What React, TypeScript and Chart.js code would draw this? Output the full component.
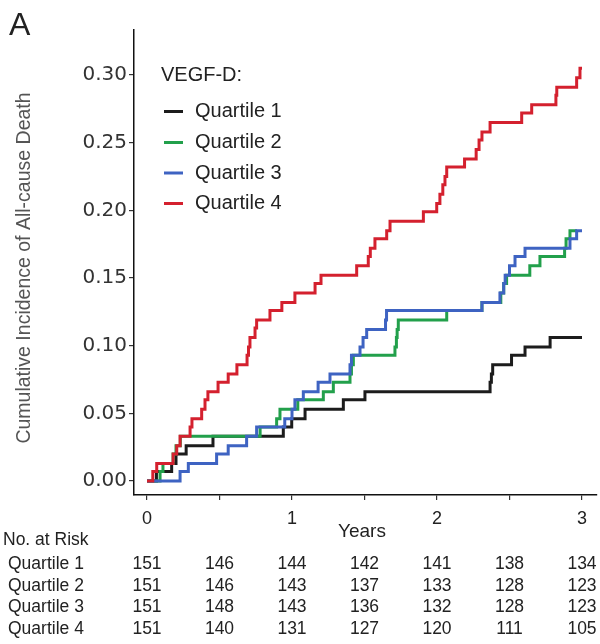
import React, { useEffect, useRef } from "react";
import { Chart, registerables } from "chart.js";

Chart.register(...registerables);

// ---------- data ----------
const seriesLabels = ["Quartile 1", "Quartile 2", "Quartile 3", "Quartile 4"];
const legendTitle = "VEGF-D:";
const yAxisTitle = "Cumulative Incidence of All-cause Death";
const xAxisTitle = "Years";
const panelLabel = "A";

const xTickValues = [0, 0.5, 1, 1.5, 2, 2.5, 3];
const yTickValues = [0, 0.05, 0.1, 0.15, 0.2, 0.25, 0.3];

const q1Times = [0, 0.065, 0.17, 0.2, 0.27, 0.455, 0.94, 0.998, 1.09, 1.354, 1.503, 2.366, 2.375, 2.384, 2.514, 2.607, 2.78, 3.0];
const q1Values = [0, 0.007, 0.013, 0.02, 0.026, 0.033, 0.04, 0.046, 0.053, 0.06, 0.066, 0.073, 0.079, 0.086, 0.093, 0.099, 0.106, 0.106];

const q2Times = [0, 0.09, 0.11, 0.18, 0.2, 0.23, 0.78, 0.894, 0.917, 1.04, 1.216, 1.285, 1.4, 1.41, 1.423, 1.71, 1.72, 1.725, 1.733, 2.067, 2.31, 2.44, 2.46, 2.48, 2.64, 2.71, 2.88, 2.89, 2.917, 2.965];
const q2Values = [0, 0.007, 0.013, 0.02, 0.026, 0.033, 0.04, 0.046, 0.053, 0.06, 0.066, 0.073, 0.079, 0.086, 0.093, 0.099, 0.106, 0.112, 0.119, 0.126, 0.132, 0.139, 0.146, 0.152, 0.159, 0.166, 0.172, 0.179, 0.185, 0.185];

const q3Times = [0, 0.228, 0.285, 0.48, 0.56, 0.687, 0.756, 0.95, 1.0, 1.02, 1.078, 1.18, 1.262, 1.4, 1.41, 1.469, 1.49, 1.515, 1.645, 1.652, 2.31, 2.434, 2.46, 2.47, 2.5, 2.538, 2.607, 2.917, 2.963, 3.0];
const q3Values = [0, 0.007, 0.013, 0.02, 0.026, 0.033, 0.04, 0.046, 0.053, 0.06, 0.066, 0.073, 0.079, 0.086, 0.093, 0.099, 0.106, 0.112, 0.119, 0.126, 0.132, 0.139, 0.146, 0.152, 0.159, 0.166, 0.172, 0.179, 0.185, 0.185];

const q4Times = [0, 0.04, 0.067, 0.18, 0.205, 0.228, 0.297, 0.31, 0.377, 0.4, 0.42, 0.49, 0.56, 0.62, 0.69, 0.7, 0.71, 0.745, 0.756, 0.848, 0.93, 1.02, 1.159, 1.2, 1.446, 1.526, 1.54, 1.572, 1.653, 1.676, 1.906, 1.998, 2.02, 2.04, 2.055, 2.067, 2.19, 2.27, 2.29, 2.31, 2.366, 2.584, 2.653, 2.82, 2.826, 2.963, 2.986, 3.0];
const q4Values = [0, 0.007, 0.013, 0.02, 0.026, 0.033, 0.04, 0.046, 0.053, 0.06, 0.066, 0.073, 0.079, 0.086, 0.093, 0.099, 0.106, 0.113, 0.119, 0.126, 0.132, 0.139, 0.146, 0.152, 0.159, 0.166, 0.172, 0.179, 0.185, 0.192, 0.199, 0.205, 0.212, 0.219, 0.225, 0.232, 0.238, 0.245, 0.252, 0.258, 0.265, 0.272, 0.278, 0.285, 0.291, 0.298, 0.305, 0.305];

const riskTitle = "No. at Risk";
const riskTimes = [0, 0.5, 1, 1.5, 2, 2.5, 3];
const riskQ1 = [151, 146, 144, 142, 141, 138, 134];
const riskQ2 = [151, 146, 143, 137, 133, 128, 123];
const riskQ3 = [151, 148, 143, 136, 132, 128, 123];
const riskQ4 = [151, 140, 131, 127, 120, 111, 105];

// ---------- styles ----------
const COLORS = ["#1c1c1c", "#22a04b", "#3e63c2", "#d4202e"];
const SANS = '"Liberation Sans", Arial, sans-serif';

export default function App() {
  const canvasRef = useRef<HTMLCanvasElement | null>(null);

  useEffect(() => {
    const canvas = canvasRef.current;
    if (!canvas) return;

    const times = [q1Times, q2Times, q3Times, q4Times];
    const values = [q1Values, q2Values, q3Values, q4Values];
    const risks = [riskQ1, riskQ2, riskQ3, riskQ4];

    const datasets = seriesLabels.map((label, i) => ({
      label,
      data: times[i].map((t, j) => ({ x: t, y: values[i][j] })),
      borderColor: COLORS[i],
      backgroundColor: COLORS[i],
      borderWidth: 3,
      pointRadius: 0,
      fill: false,
      stepped: "before" as const,
      borderJoinStyle: "miter" as const,
      borderCapStyle: "butt" as const,
      order: 3 - i,
    }));

    const textPlugin = {
      id: "extraTexts",
      afterDraw(chart: any) {
        const ctx = chart.ctx as CanvasRenderingContext2D;
        const xs = chart.scales.x;
        ctx.save();

        // panel label
        ctx.fillStyle = "#222";
        ctx.font = `32px ${SANS}`;
        ctx.textAlign = "left";
        ctx.textBaseline = "alphabetic";
        ctx.fillText(panelLabel, 9, 35);

        // y-axis title
        ctx.save();
        ctx.translate(25, 268);
        ctx.rotate(-Math.PI / 2);
        ctx.font = `19.5px ${SANS}`;
        ctx.fillStyle = "#555";
        ctx.textAlign = "center";
        ctx.textBaseline = "middle";
        ctx.fillText(yAxisTitle, 0, 0);
        ctx.restore();

        // x-axis title
        ctx.font = `19px ${SANS}`;
        ctx.fillStyle = "#222";
        ctx.textAlign = "center";
        ctx.textBaseline = "alphabetic";
        ctx.fillText(xAxisTitle, 362, 537);

        // legend
        ctx.font = `20px ${SANS}`;
        ctx.fillStyle = "#222";
        ctx.textAlign = "left";
        ctx.textBaseline = "middle";
        ctx.fillText(legendTitle, 161, 75);
        const legendY = [111.5, 142.5, 173, 203.5];
        seriesLabels.forEach((label, i) => {
          ctx.strokeStyle = COLORS[i];
          ctx.lineWidth = 3;
          ctx.beginPath();
          ctx.moveTo(164, legendY[i]);
          ctx.lineTo(183, legendY[i]);
          ctx.stroke();
          ctx.fillStyle = "#222";
          ctx.fillText(label, 195, legendY[i]);
        });

        // risk table
        ctx.font = `17.5px ${SANS}`;
        ctx.fillStyle = "#222";
        ctx.textBaseline = "alphabetic";
        ctx.textAlign = "left";
        ctx.fillText(riskTitle, 3, 545);
        const rowY = [569, 590.5, 612, 633.5];
        seriesLabels.forEach((label, i) => {
          ctx.textAlign = "left";
          ctx.fillText(label, 8, rowY[i]);
          ctx.textAlign = "center";
          riskTimes.forEach((t, j) => {
            ctx.fillText(String(risks[i][j]), xs.getPixelForValue(t), rowY[i]);
          });
        });

        ctx.restore();
      },
    };

    const chart = new Chart(canvas, {
      type: "line",
      data: { datasets },
      options: {
        animation: false,
        responsive: false,
        devicePixelRatio: 1,
        layout: { padding: { left: 0, right: 3, top: 30, bottom: 0 } },
        plugins: {
          legend: { display: false },
          tooltip: { enabled: false },
          title: { display: false },
        },
        scales: {
          x: {
            type: "linear",
            min: -0.0897,
            max: 3.1034,
            afterBuildTicks: (s: any) => {
              s.ticks = xTickValues.map((v) => ({ value: v }));
            },
            afterFit: (s: any) => {
              s.height = 149;
            },
            grid: {
              display: true,
              drawOnChartArea: false,
              drawTicks: true,
              tickLength: 5,
              color: "#333",
              lineWidth: 1.2,
            },
            border: { display: true, color: "#111", width: 1.5 },
            ticks: {
              autoSkip: false,
              maxRotation: 0,
              padding: 8,
              color: "#222",
              font: { family: SANS, size: 18 },
              callback: (v: any) => (Number.isInteger(v) ? String(v) : ""),
            },
          },
          y: {
            type: "linear",
            min: -0.01034,
            max: 0.3333,
            afterBuildTicks: (s: any) => {
              s.ticks = yTickValues.map((v) => ({ value: v }));
            },
            afterFit: (s: any) => {
              s.width = 134;
            },
            grid: {
              display: true,
              drawOnChartArea: false,
              drawTicks: true,
              tickLength: 5,
              color: "#333",
              lineWidth: 1.2,
            },
            border: { display: true, color: "#111", width: 1.5 },
            ticks: {
              autoSkip: false,
              padding: 2,
              color: "#333",
              font: { family: '"DejaVu Sans", sans-serif', size: 20 },
              callback: (v: any) => Number(v).toFixed(2),
            },
          },
        },
      },
      plugins: [textPlugin],
    });

    return () => {
      chart.destroy();
    };
  }, []);

  return (
    <div style={{ position: "absolute", left: 0, top: 0, width: 600, height: 644, background: "#fff" }}>
      <canvas ref={canvasRef} width={600} height={644} style={{ width: 600, height: 644, display: "block" }} />
    </div>
  );
}
